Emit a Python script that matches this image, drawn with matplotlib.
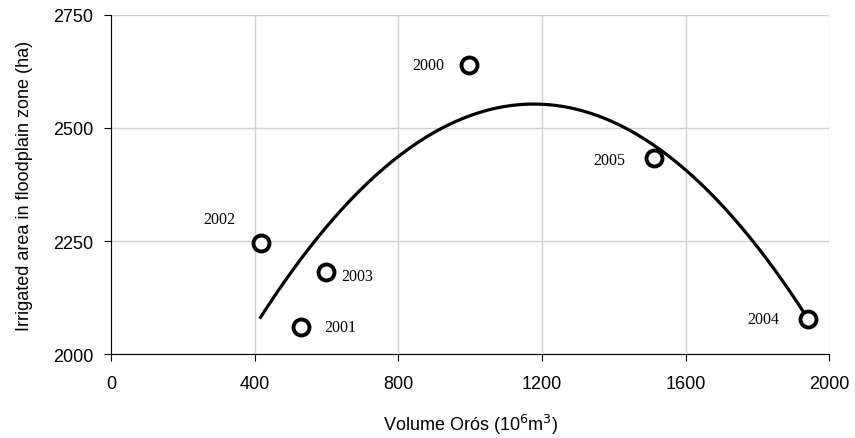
import matplotlib.pyplot as plt
import numpy as np

plt.rcParams['font.family'] = ['Liberation Sans', 'DejaVu Sans']

years = ['2000', '2001', '2002', '2003', '2004', '2005']
volume = [996, 530, 416, 597, 1941, 1512]
area = [2638, 2060, 2246, 2182, 2078, 2433]

fig = plt.figure(figsize=(8.55, 4.39), dpi=100)
ax = fig.add_axes([0.130, 0.191, 0.840, 0.773])

# quadratic trend line (fit of the points)
coef = np.polyfit(volume, area, 2)
xs = np.linspace(min(volume), max(volume), 200)
ax.plot(xs, np.polyval(coef, xs), color='black', lw=2.3, zorder=2)

ax.plot(volume, area, 'o', ms=11.5, mfc='white', mec='black', mew=2.8, zorder=3)

# year labels (offsets in points)
offsets = {'2000': (-29, 0), '2001': (28, 0), '2002': (-30, 17),
           '2003': (23, -3), '2004': (-32, 0), '2005': (-32, -1)}
for y, vx, vy in zip(years, volume, area):
    dx, dy = offsets[y]
    ax.annotate(y, (vx, vy), xytext=(dx, dy), textcoords='offset points',
                ha='center', va='center', fontsize=11.5, family='Liberation Serif')

ax.set_xlim(0, 2000)
ax.set_ylim(2000, 2750)
ax.set_xticks([0, 400, 800, 1200, 1600, 2000])
ax.set_yticks([2000, 2250, 2500, 2750])
ax.grid(color='#d0d0d0', lw=1)
ax.set_axisbelow(True)
for s in ['top', 'right']:
    ax.spines[s].set_visible(False)
ax.tick_params(labelsize=13, length=5, direction='out')
ax.tick_params(axis='x', pad=10)
ax.tick_params(axis='y', pad=8)
ax.set_xlabel('Volume Orós (10$^6$m$^3$)', fontsize=13, labelpad=14)
ax.set_ylabel('Irrigated area in floodplain zone (ha)', fontsize=13, labelpad=14)

fig.savefig('out.png', dpi=100)
